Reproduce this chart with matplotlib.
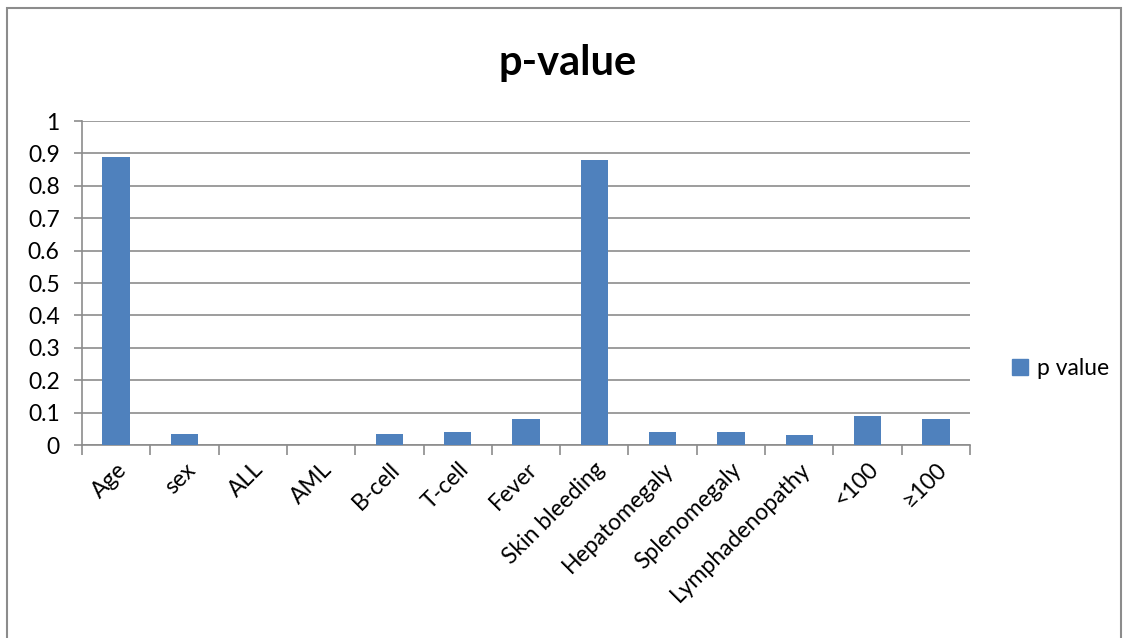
import numpy as np
import matplotlib.pyplot as plt
from matplotlib.patches import Rectangle, Patch

categories = ['Age', 'sex', 'ALL', 'AML', 'B-cell', 'T-cell', 'Fever', 'Skin bleeding',
              'Hepatomegaly', 'Splenomegaly', 'Lymphadenopathy', '<100', '≥100']
p_values = [0.89, 0.035, 0.0, 0.0, 0.035, 0.04, 0.08, 0.88, 0.04, 0.04, 0.03, 0.09, 0.08]

plt.rcParams['font.family'] = ['Lato', 'DejaVu Sans']
bar_color = '#4F81BD'
grid_color = '#8C8C8C'
fs = 16.5

fig = plt.figure(figsize=(11.29, 6.38), dpi=100)
ax = fig.add_axes([0.0726, 0.3025, 0.7866, 0.5078])

x = np.arange(len(categories))
ax.bar(x, p_values, width=0.4, color=bar_color, zorder=3)

ax.set_xlim(-0.5, len(categories) - 0.5)
ax.set_ylim(0, 1)
ax.set_yticks(np.arange(0, 1.01, 0.1))
ax.set_yticklabels(['0', '0.1', '0.2', '0.3', '0.4', '0.5', '0.6', '0.7', '0.8', '0.9', '1'])
ax.grid(axis='y', color=grid_color, linewidth=1.2, zorder=0)

# ticks on category borders, labels at bar centres
ax.set_xticks(np.arange(-0.5, len(categories), 1.0), minor=False)
ax.set_xticklabels([])
ax.set_xticks(x, minor=True)
ax.set_xticklabels(categories, minor=True, rotation=45, ha='right',
                   rotation_mode='anchor', fontsize=fs)
ax.tick_params(axis='x', which='minor', length=0, pad=10)
ax.tick_params(axis='x', which='major', length=7, width=1.2, color=grid_color)
ax.tick_params(axis='y', length=6, width=1.2, color=grid_color, labelsize=fs, pad=10)

for side in ['top', 'right']:
    ax.spines[side].set_visible(False)
for side in ['left', 'bottom']:
    ax.spines[side].set_color(grid_color)
    ax.spines[side].set_linewidth(1.2)

fig.text(0.503, 0.902, 'p-value', ha='center', va='center', fontsize=30, fontweight='bold')

fig.legend(handles=[Patch(color=bar_color, label='p value')], loc='center left',
           bbox_to_anchor=(0.878, 0.423), frameon=False, fontsize=fs,
           handlelength=0.7, handleheight=0.7, handletextpad=0.4)

fig.patches.append(Rectangle((7 / 1129, -0.1), (1121 - 7) / 1129, 1.1 - 8 / 638,
                             transform=fig.transFigure, fill=False,
                             edgecolor='#8C8C8C', linewidth=1.5))

fig.savefig('out.png', dpi=100)
